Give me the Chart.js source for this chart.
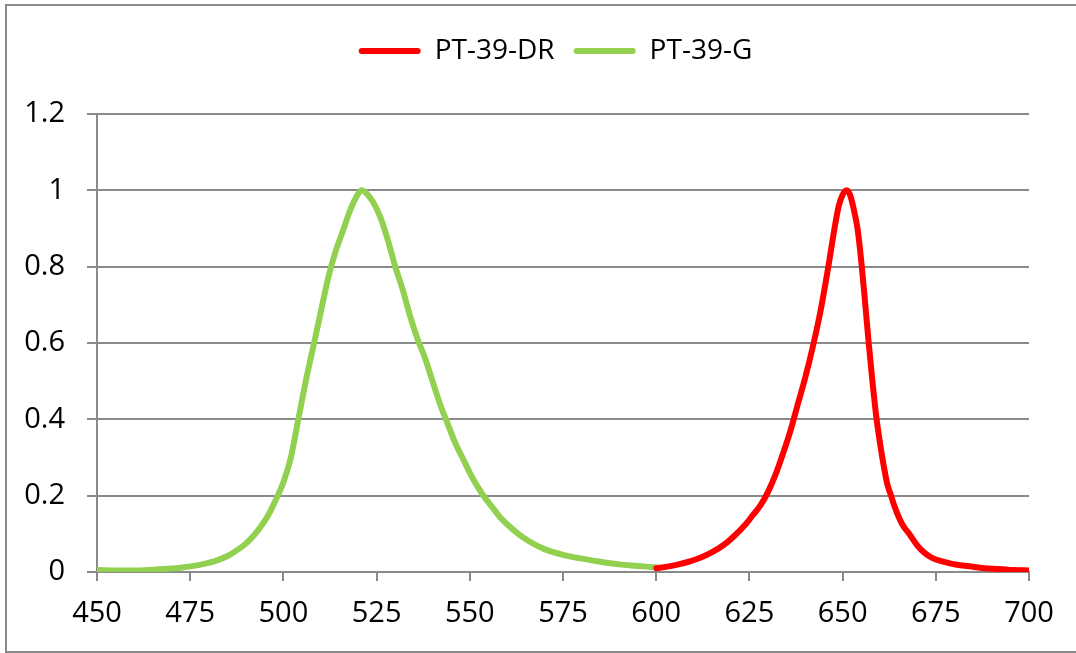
<!DOCTYPE html>
<html>
<head>
<meta charset="utf-8">
<script src="https://cdn.jsdelivr.net/npm/chart.js@4.4.0/dist/chart.umd.min.js"></script>
<style>
  html, body { margin: 0; padding: 0; background: #fff; }
  #wrap { width: 1076px; height: 653px; position: relative; }
</style>
</head>
<body>
<div id="wrap"><canvas id="myChart" width="1076" height="653"></canvas></div>
<script>
// wavelengths (nm) and relative intensity
var green_nm = [450, 455, 460, 465, 470, 473, 476, 479, 482, 485, 488, 490, 492, 494, 496, 498, 500, 502, 504, 506, 508, 510, 512, 514, 516, 518, 520, 521, 522, 524, 526, 528, 530, 532, 534, 536, 538, 540, 542, 544, 546, 548, 550, 552, 554, 556, 558, 560, 563, 566, 570, 575, 580, 585, 590, 595, 600];
var green_val = [0.005, 0.004, 0.004, 0.006, 0.009, 0.012, 0.016, 0.022, 0.03, 0.042, 0.06, 0.075, 0.095, 0.12, 0.15, 0.19, 0.235, 0.30, 0.40, 0.50, 0.59, 0.68, 0.77, 0.84, 0.895, 0.95, 0.99, 1.0, 0.995, 0.97, 0.93, 0.87, 0.80, 0.74, 0.67, 0.61, 0.56, 0.50, 0.44, 0.39, 0.34, 0.30, 0.26, 0.225, 0.195, 0.17, 0.145, 0.125, 0.10, 0.08, 0.06, 0.045, 0.035, 0.027, 0.02, 0.016, 0.012];

var red_nm = [600, 603, 606, 609, 612, 615, 618, 621, 624, 626, 628, 630, 632, 634, 636, 638, 640, 642, 644, 646, 648, 649, 650, 651, 652, 653, 654, 655, 656, 657, 658, 659, 660, 661, 662, 663, 664, 666, 668, 670, 672, 674, 677, 680, 684, 688, 692, 696, 700];
var red_val = [0.01, 0.014, 0.02, 0.028, 0.038, 0.052, 0.07, 0.095, 0.125, 0.15, 0.175, 0.21, 0.255, 0.31, 0.37, 0.44, 0.51, 0.59, 0.68, 0.79, 0.91, 0.96, 0.988, 1.0, 0.988, 0.95, 0.9, 0.815, 0.71, 0.60, 0.50, 0.41, 0.34, 0.28, 0.23, 0.20, 0.17, 0.125, 0.098, 0.07, 0.05, 0.037, 0.027, 0.02, 0.015, 0.01, 0.008, 0.005, 0.004];

var nomes = ['PT-39-DR', 'PT-39-G'];
var cores = ['#ff0000', '#92d050'];

function pontos(xs, ys) {
  var out = [];
  for (var i = 0; i < xs.length; i++) out.push({ x: xs[i], y: ys[i] });
  return out;
}

var cinza = '#8a8a8a';
var fonte = "'Open Sans', 'DejaVu Sans', sans-serif";

// moldura cinza em volta do grafico
var moldura = {
  id: 'moldura',
  beforeDraw: function (chart) {
    var ctx = chart.ctx;
    ctx.save();
    ctx.strokeStyle = cinza;
    ctx.lineWidth = 2;
    ctx.strokeRect(6, 5, 1080, 647);
    ctx.restore();
  }
};

// a legenda do original fica um pouco a direita do centro
var empurraLegenda = {
  id: 'empurraLegenda',
  afterLayout: function (chart) {
    if (chart.legend) {
      chart.legend.left += 41;
      chart.legend.right += 41;
    }
  }
};

function serie(i, xs, ys) {
  return {
    label: nomes[i],
    data: pontos(xs, ys),
    borderColor: cores[i],
    backgroundColor: cores[i],
    borderWidth: 6,
    borderCapStyle: 'round',
    borderJoinStyle: 'round',
    pointRadius: 0,
    cubicInterpolationMode: 'monotone'
  };
}

var config = {
  type: 'line',
  data: {
    datasets: [serie(0, red_nm, red_val), serie(1, green_nm, green_val)]
  },
  options: {
    responsive: false,
    animation: false,
    layout: { padding: { left: 0, right: 47, top: 18, bottom: 0 } },
    plugins: {
      legend: {
        position: 'top',
        labels: {
          boxWidth: 62,
          boxHeight: 6,
          padding: 19,
          useBorderRadius: true,
          borderRadius: 3,
          color: '#000',
          font: { family: fonte, size: 28 },
          generateLabels: function (chart) {
            var itens = Chart.defaults.plugins.legend.labels.generateLabels(chart);
            itens.forEach(function (it) { it.lineWidth = 0; });
            return itens;
          }
        }
      },
      // espaco vazio entre legenda e area do grafico
      title: {
        display: true,
        text: '',
        weight: 500,
        font: { size: 10, lineHeight: 1 },
        padding: { top: 0, bottom: 29 }
      },
      tooltip: { enabled: false }
    },
    scales: {
      x: {
        type: 'linear',
        min: 450,
        max: 700,
        ticks: { stepSize: 25, color: '#000', padding: 15, font: { family: fonte, size: 29 } },
        grid: { drawOnChartArea: false, drawTicks: true, tickLength: 9, color: cinza, lineWidth: 2 },
        border: { color: cinza, width: 2 },
        afterFit: function (s) { s.height = 81; }
      },
      y: {
        min: 0,
        max: 1.2,
        ticks: {
          stepSize: 0.2, color: '#000', padding: 22, font: { family: fonte, size: 29 },
          callback: function (v) { return String(Number(v.toFixed(1))); }
        },
        grid: { color: cinza, lineWidth: 2, tickLength: 10 },
        border: { color: cinza, width: 2 },
        afterFit: function (s) { s.width = 97; }
      }
    }
  },
  plugins: [moldura, empurraLegenda]
};

window.myChart = new Chart(document.getElementById('myChart'), config);
</script>
</body>
</html>
